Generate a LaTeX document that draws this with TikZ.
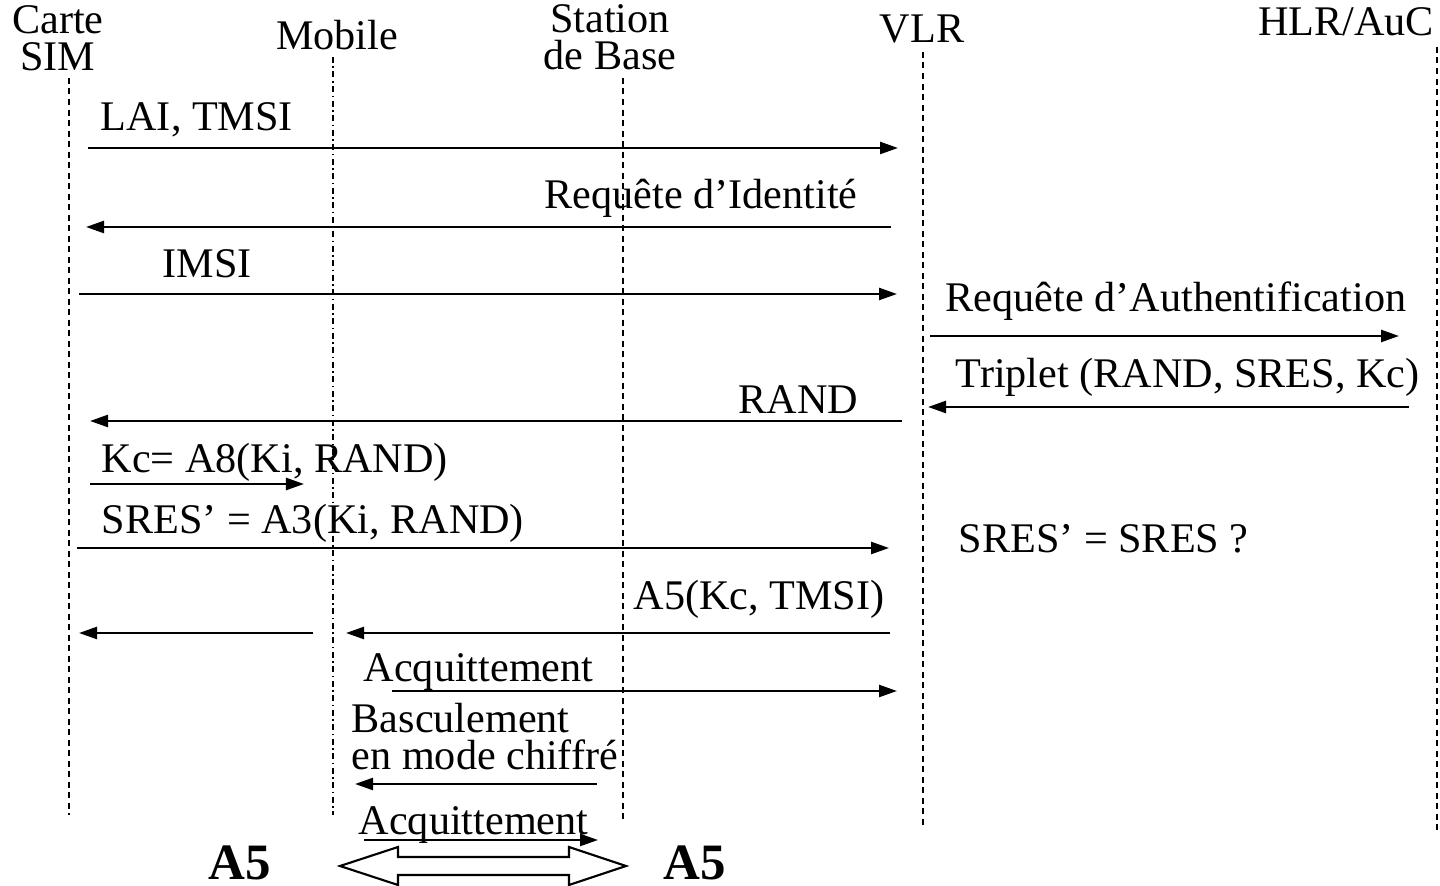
\documentclass[tikz,border=0pt]{standalone}
\usepackage{fontspec}
\setmainfont{Liberation Serif}
\usetikzlibrary{arrows.meta}
\tikzset{
  actor/.style  ={inner sep=0pt, font=\fontsize{12}{10.8}\selectfont,
                  align=center, anchor=base},
  mlbl/.style   ={inner sep=0pt, font=\fontsize{12}{10.5}\selectfont,
                  align=left, anchor=base west},
  algo/.style   ={inner sep=0pt, font=\fontsize{14.5}{16}\selectfont\bfseries,
                  anchor=base west},
  life/.style   ={line width=0.55pt, dash pattern=on 0.6mm off 0.45mm},
  lifedd/.style ={line width=0.55pt,
                  dash pattern=on 0.6mm off 0.35mm on 0.15mm off 0.35mm},
  msg/.style    ={-{Triangle[length=1.8mm, width=1.2mm]}, line width=0.7pt},
  dbl/.style    ={draw, line width=0.6pt, fill=white, line join=miter},
}
\begin{document}
\begin{tikzpicture}[x=0.01cm, y=-0.01cm]
  \useasboundingbox (0,0) rectangle (1440,886);
  % ---- entities and lifelines
  \node[actor] (sim) at (58,71)   {Carte\\SIM};
  \node[actor] (mob) at (337,50)  {Mobile};
  \node[actor] (bts) at (610,70)  {Station\\de Base};
  \node[actor] (vlr) at (922,43)  {VLR};
  \node[actor] (hlr) at (1346,36) {HLR/AuC};
  \foreach \n/\x/\ya/\yb in {sim/69/78/815, bts/623/78/820,
                             vlr/923/52/828, hlr/1437/47/830}{
    \coordinate (\n-t) at (\x,\ya);
    \coordinate (\n-b) at (\x,\yb);
    \draw[life] (\n-t) -- (\n-b);
  }
  \coordinate (mob-t) at (333,57);
  \coordinate (mob-b) at (333,815);
  \draw[lifedd] (mob-t) -- (mob-b);
  % ---- messages (from -> to)
  \foreach \n/\xa/\xb/\y in {lai/88/898/148, idreq/891/86/227,
      imsi/79/897/294, authreq/930/1399/336, trip/1409/928/407,
      rand/902/90/421, kc/90/304/484, sres/77/889/548,
      a5k/890/346/633, a5s/313/79/633, ack1/392/897/691,
      basc/597/355/784, ack2/364/598/840}{
    \coordinate (\n-a) at (\xa,\y);
    \coordinate (\n-b) at (\xb,\y);
    \draw[msg] (\n-a) -- (\n-b);
  }
  % ---- message labels
  \node[mlbl] (l-lai)     at (100,131) {LAI, TMSI};
  \node[mlbl] (l-idreq)   at (544,209) {Requête d’Identité};
  \node[mlbl] (l-imsi)    at (162,278) {IMSI};
  \node[mlbl] (l-authreq) at (945,312) {Requête d’Authentification};
  \node[mlbl] (l-trip)    at (955,388) {Triplet (RAND, SRES, Kc)};
  \node[mlbl] (l-rand)    at (738,414) {RAND};
  \node[mlbl] (l-kc)      at (101,473) {Kc= A8(Ki, RAND)};
  \node[mlbl] (l-sres)    at (101,534) {SRES’ = A3(Ki, RAND)};
  \node[mlbl] (l-cmp)     at (958,553) {SRES’ = SRES ?};
  \node[mlbl] (l-a5k)     at (633,610) {A5(Kc, TMSI)};
  \node[mlbl] (l-ack1)    at (363,682) {Acquittement};
  \node[mlbl] (l-basc)    at (351,769) {Basculement\\en mode chiffré};
  \node[mlbl] (l-ack2)    at (358,834) {Acquittement};
  % ---- ciphered link
  \node[algo] (a5ms) at (208,879) {A5};
  \node[algo] (a5bs) at (663,879) {A5};
  \coordinate (dal) at (340,866);
  \coordinate (dar) at (626,866);
  \draw[dbl] (dal) -- ++(58,-19) -- ++(0,10) -- ++(171,0) -- ++(0,-10)
    -- (dar) -- ++(-57,19) -- ++(0,-10) -- ++(-171,0) -- ++(0,10) -- cycle;
\end{tikzpicture}
\end{document}
